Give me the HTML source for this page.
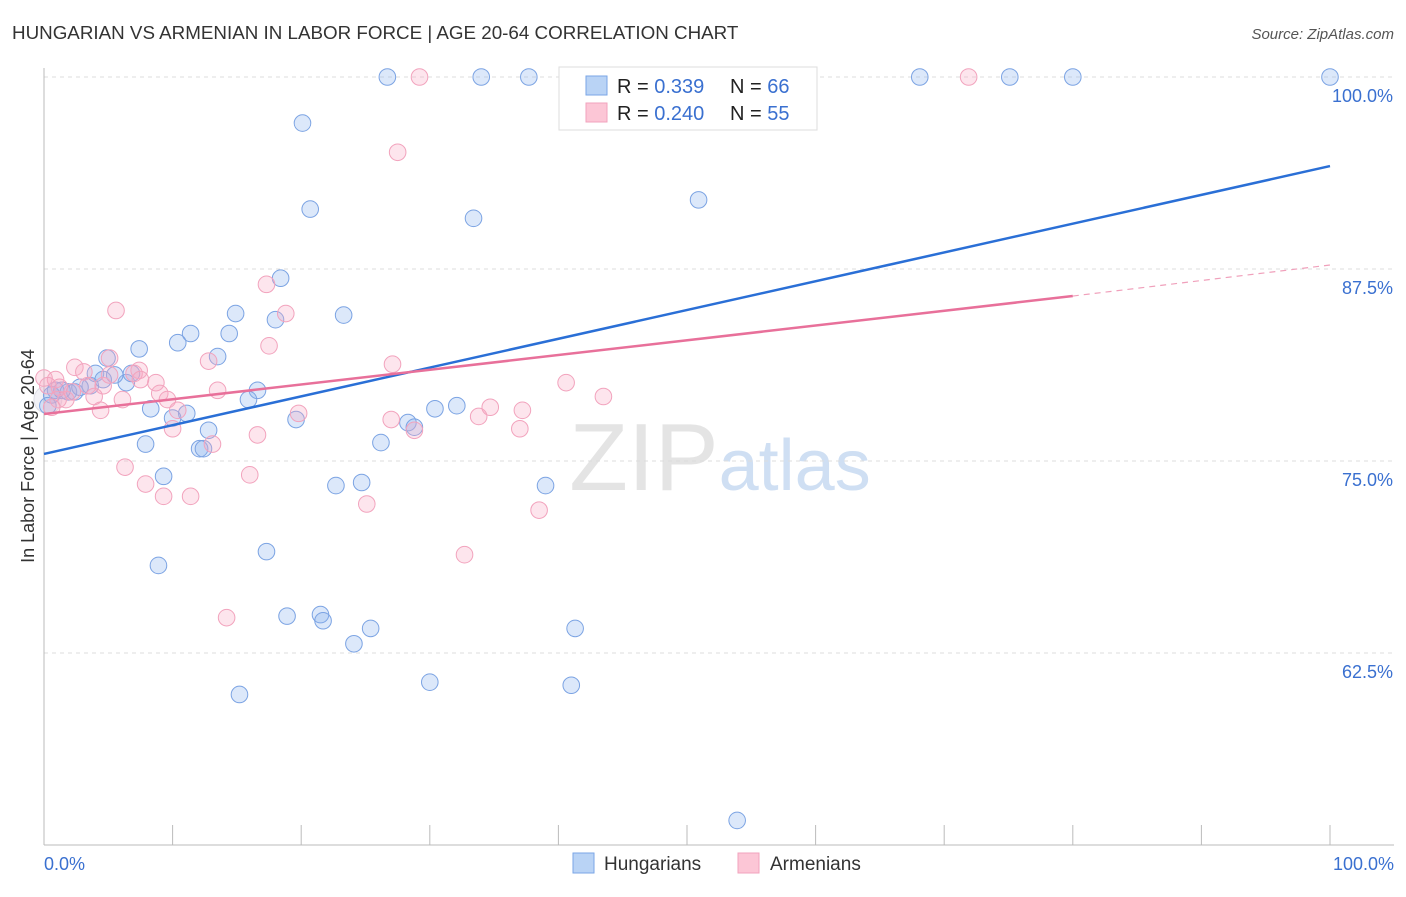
<!DOCTYPE html>
<html><head><meta charset="utf-8"><style>
body{margin:0;background:#fff;font-family:"Liberation Sans",sans-serif;}
svg text{font-family:"Liberation Sans",sans-serif;}
</style></head><body>
<svg id="chart" width="1406" height="892">
<text x="12" y="39" font-size="18.8" fill="#333">HUNGARIAN VS ARMENIAN IN LABOR FORCE | AGE 20-64 CORRELATION CHART</text>
<text x="1394" y="39" font-size="15" fill="#555" font-style="italic" text-anchor="end">Source: ZipAtlas.com</text>
<text x="720" y="490" font-size="96" fill="#e4e4e4" text-anchor="middle" font-family="Liberation Serif">ZIP<tspan fill="#cfdff3" font-family="Liberation Sans" font-size="72">atlas</tspan></text>
<g id="grid"></g><g id="axes"></g><g id="pts"></g><g id="lines"></g>
<text transform="translate(34,456) rotate(-90)" font-size="18" fill="#333" text-anchor="middle">In Labor Force | Age 20-64</text>
<g>
<rect x="559" y="67" width="258" height="63" fill="#fff" stroke="#ddd"/>
<rect x="586" y="76" width="21" height="19" fill="#b9d3f5" stroke="#7aa6e6"/>
<rect x="586" y="103" width="21" height="19" fill="#fcc6d6" stroke="#f2a3bd"/>
<text x="617" y="93" font-size="20" fill="#222">R = <tspan fill="#3a70d0">0.339</tspan><tspan x="730">N = </tspan><tspan fill="#3a70d0">66</tspan></text>
<text x="617" y="120" font-size="20" fill="#222">R = <tspan fill="#3a70d0">0.240</tspan><tspan x="730">N = </tspan><tspan fill="#3a70d0">55</tspan></text>
</g>
<g>
<rect x="573" y="853" width="21" height="20" fill="#b9d3f5" stroke="#7aa6e6"/>
<text x="604" y="870" font-size="19" fill="#333">Hungarians</text>
<rect x="738" y="853" width="21" height="20" fill="#fcc6d6" stroke="#f2a3bd"/>
<text x="770" y="870" font-size="19" fill="#333">Armenians</text>
</g>
</svg>
<script>
const yTicks=[100,87.5,75,62.5];
const yTickLabels=["100.0%","87.5%","75.0%","62.5%"];
const blueX=[26.7,34.0,37.7,56.7,68.1,75.1,80.0,100,20.1,20.7,33.4,50.9,18.4,14.9,18.0,23.3,11.4,14.4,10.4,7.4,4.9,13.5,0.9,1.9,2.4,3.6,6.4,5.5,6.8,4.0,16.6,15.9,8.3,11.1,10.0,19.6,12.8,30.4,32.1,28.3,28.8,7.9,12.1,12.4,26.2,9.3,22.7,24.7,39.0,17.3,8.9,18.9,21.5,21.7,25.4,41.3,24.1,30.0,15.2,41.0,53.9,0.6,1.4,2.8,0.3,4.6];
const blueY=[100,100,100,100,100,100,100,100,97.0,91.4,90.8,92.0,86.9,84.6,84.2,84.5,83.3,83.3,82.7,82.3,81.7,81.8,79.6,79.5,79.5,79.9,80.1,80.6,80.7,80.7,79.6,79.0,78.4,78.1,77.8,77.7,77.0,78.4,78.6,77.5,77.2,76.1,75.8,75.8,76.2,74.0,73.4,73.6,73.4,69.1,68.2,64.9,65.0,64.6,64.1,64.1,63.1,60.6,59.8,60.4,51.6,79.3,79.6,79.8,78.6,80.3];
const pinkX=[29.2,71.9,27.5,17.3,18.8,5.6,17.5,5.1,12.8,27.1,2.4,3.1,7.4,7.0,0,0.9,0.3,1.2,3.4,4.6,8.7,13.5,9.0,9.6,6.1,3.9,1.7,10.4,19.8,4.4,10.0,27.0,28.8,33.8,34.7,37.2,37.0,40.6,43.5,13.1,16.6,6.3,16.0,7.9,9.3,11.4,25.1,38.5,32.7,14.2,1.1,2.2,5.1,7.5,0.6];
const pinkY=[100,100,95.1,86.5,84.6,84.8,82.5,81.7,81.5,81.3,81.1,80.8,80.9,80.7,80.4,80.3,79.9,79.8,79.9,79.9,80.1,79.6,79.4,79.0,79.0,79.2,79.0,78.3,78.1,78.3,77.1,77.7,77.0,77.9,78.5,78.3,77.1,80.1,79.2,76.1,76.7,74.6,74.1,73.5,72.7,72.7,72.2,71.8,68.9,64.8,79.0,79.5,80.6,80.3,78.5];
const blueTrend=[75.46,94.2];
const pinkTrend=[78.06,85.74,87.76];
const NS="http://www.w3.org/2000/svg";
const X=v=>44+v*12.86, Y=v=>845-(v-50)*15.36;
function mk(t,a,p){const e=document.createElementNS(NS,t);for(const k in a)e.setAttribute(k,a[k]);p.appendChild(e);return e;}
const grid=document.getElementById('grid'),axes=document.getElementById('axes'),pts=document.getElementById('pts'),lines=document.getElementById('lines');
yTicks.forEach((t,i)=>{
 const l=mk('line',{x1:44,x2:1394,y1:Y(t),y2:Y(t),stroke:'#ddd','stroke-dasharray':'4,4'},grid);
 
 
 const tx=mk('text',{x:1393,y:Y(t)+25,'font-size':18,fill:'#3a70d0','text-anchor':'end'},axes);
 tx.textContent=yTickLabels[i];
 
 
});
mk('line',{x1:44,x2:44,y1:68,y2:845,stroke:'#bbb'},axes);
mk('line',{x1:44,x2:1394,y1:845,y2:845,stroke:'#bbb'},axes);
for(let i=1;i<=10;i++){const t=mk('line',{x1:X(i*10),x2:X(i*10),y1:825,y2:845,stroke:'#bbb'},axes);
 
 }
const x0=mk('text',{x:44,y:870,'font-size':18,fill:'#3a70d0'},axes);x0.textContent='0.0%';


const x1=mk('text',{x:1394,y:870,'font-size':18,fill:'#3a70d0','text-anchor':'end'},axes);x1.textContent='100.0%';


const big=mk('circle',{cx:X(0.3),cy:Y(79.0),r:14,fill:'rgba(200,200,220,0.25)',stroke:'rgba(180,180,200,0.4)'},pts);


blueX.forEach((v,i)=>{const c=mk('circle',{cx:X(v),cy:Y(blueY[i]),r:8.3,fill:'rgba(140,180,240,0.3)',stroke:'#7ba3e3','stroke-width':1},pts);
 
 });
pinkX.forEach((v,i)=>{const c=mk('circle',{cx:X(v),cy:Y(pinkY[i]),r:8.3,fill:'rgba(248,170,195,0.3)',stroke:'#f2a3bd','stroke-width':1},pts);
 
 });
const bl=mk('line',{x1:X(0),y1:Y(blueTrend[0]),x2:X(100),y2:Y(blueTrend[1]),stroke:'#2a6fd6','stroke-width':2.5},lines);


const pl=mk('line',{x1:X(0),y1:Y(pinkTrend[0]),x2:X(80),y2:Y(pinkTrend[1]),stroke:'#e8709a','stroke-width':2.5},lines);


const pd=mk('line',{x1:X(80),y1:Y(pinkTrend[1]),x2:X(100),y2:Y(pinkTrend[2]),stroke:'#f0a0bb','stroke-width':1.2,'stroke-dasharray':'6,5'},lines);


</script>
</body></html>
